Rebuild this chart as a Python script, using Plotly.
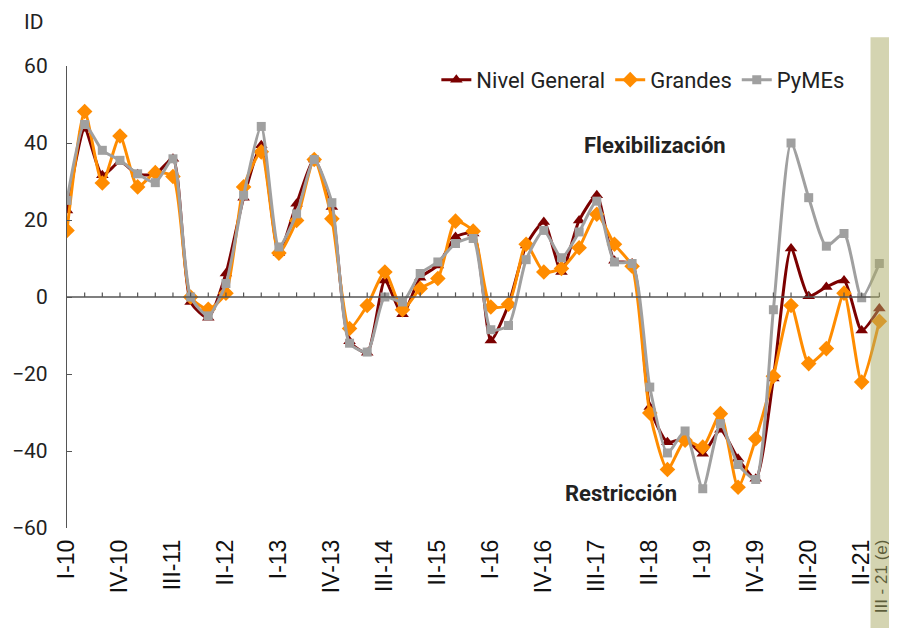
import plotly.graph_objects as go

# quarters I-10 .. III-21 (47 points)
quarters = [f"{q}-{y:02d}" for y in range(10, 22) for q in ["I", "II", "III", "IV"]][:47]

nivel_general = [22.5, 43.7, 31.6, 35.1, 31.9, 31.9, 35.9, -1.3, -5.4, 6.1,
                 25.8, 39.4, 11.4, 24.2, 35.7, 23.4, -11.5, -14.5, 4.3, -4.5,
                 5.0, 8.2, 15.6, 16.5, -11.3, -2.0, 13.4, 19.5, 6.5, 19.9,
                 26.4, 9.4, 8.7, -28.6, -37.7, -36.8, -40.7, -34.5, -42.0, -47.2,
                 -21.2, 12.6, 0.2, 2.6, 4.3, -8.7, -3.0]
grandes = [17.3, 48.2, 29.6, 41.8, 28.6, 32.3, 31.3, 0.0, -3.2, 1.0,
           28.6, 37.7, 11.4, 19.9, 35.7, 20.3, -8.2, -2.2, 6.5, -3.3,
           2.2, 4.8, 19.7, 17.1, -2.6, -1.9, 13.7, 6.5, 7.4, 12.8,
           21.5, 13.7, 8.0, -30.1, -44.8, -37.2, -39.0, -30.3, -49.4, -36.8,
           -20.6, -2.2, -17.3, -13.4, 1.0, -22.1, -6.3]
pymes = [25.1, 44.8, 38.1, 35.5, 32.0, 29.7, 35.9, 0.0, -4.9, 3.5,
         26.4, 44.3, 13.0, 21.6, 35.7, 24.5, -12.0, -14.3, 0.0, -1.3,
         6.1, 9.1, 13.9, 15.2, -8.5, -7.4, 9.7, 17.3, 10.2, 16.9,
         24.9, 9.1, 8.7, -23.4, -40.5, -34.8, -49.8, -32.9, -43.5, -47.4,
         -3.3, 40.0, 25.8, 13.2, 16.5, -0.2, 8.7]

# last label is the estimate; a bit smaller so it fits in the page
tick_labels = quarters[::3] + ['<span style="font-size:17px">III - 21 (e)</span>']
idx = list(range(len(quarters)))

fig = go.Figure()

fig.add_trace(go.Scatter(x=idx, y=nivel_general, name="Nivel General",
                         mode="lines+markers", line=dict(color="#7b0000", width=3, shape="spline", smoothing=0.6),
                         marker=dict(symbol="triangle-up", size=11, color="#7b0000")))
fig.add_trace(go.Scatter(x=idx, y=grandes, name="Grandes",
                         mode="lines+markers", line=dict(color="#ff8c00", width=3, shape="spline", smoothing=0.6),
                         marker=dict(symbol="diamond", size=12, color="#ff8c00")))
fig.add_trace(go.Scatter(x=idx, y=pymes, name="PyMEs",
                         mode="lines+markers", line=dict(color="#a0a0a0", width=3, shape="spline", smoothing=0.6),
                         marker=dict(symbol="square", size=9, color="#a0a0a0")))

shapes = [dict(type="line", xref="x", yref="y", x0=0, x1=idx[-1], y0=0, y1=0,
               line=dict(color="#555555", width=1.5))]
# small tick marks on the zero line
for i in idx[1:]:
    shapes.append(dict(type="line", xref="x", yref="y", x0=i, x1=i, y0=0, y1=1.2,
                       line=dict(color="#555555", width=1.2)))
# estimate band
shapes.append(dict(type="rect", xref="x", yref="paper", x0=idx[-1] - 0.5, x1=idx[-1] + 1,
                   y0=-0.3, y1=1.062, fillcolor="rgba(170,170,100,0.5)", line=dict(width=0),
                   layer="above"))

# the page body has an 8px margin, so the figure is 8px smaller than the window
fig.update_layout(
    width=889, height=620,
    margin=dict(l=59, r=0, t=58, b=100),
    plot_bgcolor="white", paper_bgcolor="white",
    font=dict(family="Roboto", size=21, color="#222222"),
    showlegend=True,
    legend=dict(orientation="h", x=0.445, xanchor="left", y=0.97, yanchor="middle",
                font=dict(size=22, color="#222222"), itemwidth=30, bgcolor="rgba(0,0,0,0)"),
    xaxis=dict(range=[0, idx[-1] + 1], showgrid=False, zeroline=False, showline=False,
               tickmode="array", tickvals=idx[::3] + [idx[-1]], ticktext=tick_labels,
               tickangle=-90, ticks="", ticklabelstandoff=6, automargin=False,
               tickfont=dict(family="Liberation Sans", size=23, color="#111111")),
    yaxis=dict(range=[-60, 60], dtick=20, showgrid=False, zeroline=False,
               showline=True, linecolor="#555555", linewidth=1.2, automargin=False,
               ticks="inside", ticklen=5, tickcolor="#555555", ticklabelstandoff=14,
               tickfont=dict(size=21, color="#222222")),
    shapes=shapes,
    annotations=[
        dict(text="ID", xref="paper", yref="paper", x=-0.04, y=1.095, xanchor="center", yanchor="middle",
             showarrow=False, font=dict(size=21, color="#222222")),
        dict(text="<b>Flexibilización</b>", xref="paper", yref="paper", x=0.708, y=0.829,
             xanchor="center", yanchor="middle", showarrow=False, font=dict(size=22, color="#222222")),
        dict(text="<b>Restricción</b>", xref="paper", yref="paper", x=0.667, y=0.074,
             xanchor="center", yanchor="middle", showarrow=False, font=dict(size=22, color="#222222")),
    ],
)

fig.write_html("out.html")
